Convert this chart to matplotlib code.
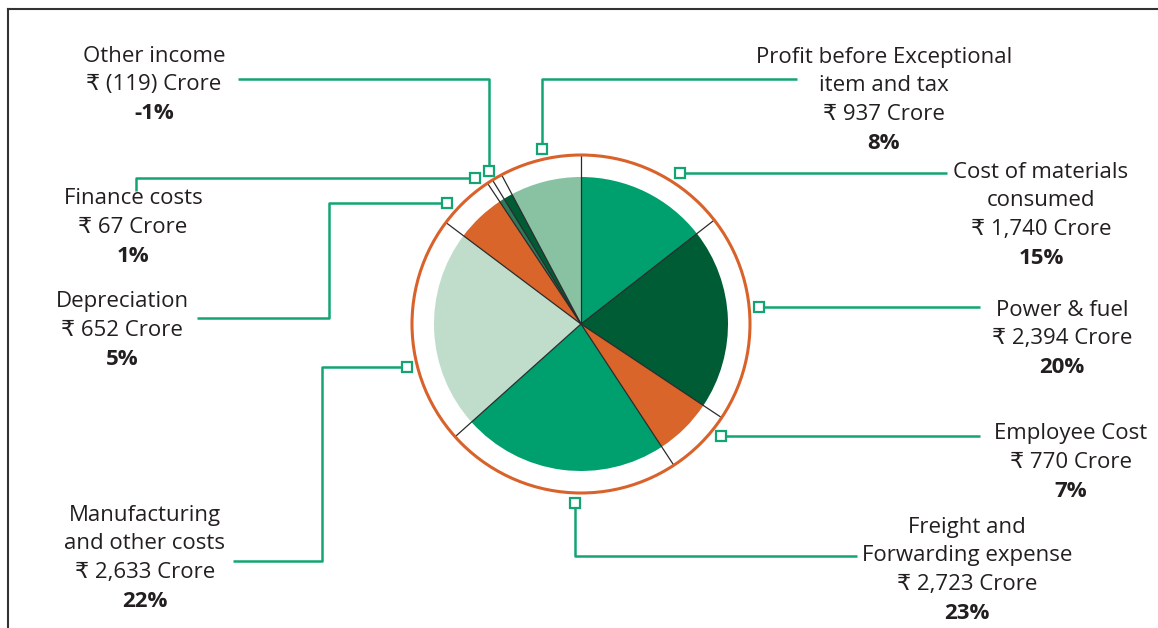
import matplotlib
matplotlib.use('Agg')
import matplotlib.pyplot as plt
from matplotlib.patches import Circle
import numpy as np

plt.rcParams['font.family'] = ['Open Sans', 'DejaVu Sans']

# Daten
labels = ['Cost of materials\nconsumed', 'Power & fuel', 'Employee Cost',
          'Freight and\nForwarding expense', 'Manufacturing\nand other costs',
          'Depreciation', 'Finance costs', 'Other income',
          'Profit before Exceptional\nitem and tax']
amounts = [1740, 2394, 770, 2723, 2633, 652, 67, -119, 937]
percents = [15, 20, 7, 23, 22, 5, 1, -1, 8]
colors = ['#00a06e', '#005c35', '#d9652a', '#00a06e', '#c0ddcb',
          '#d9652a', '#2f7a5b', '#005c35', '#88c2a3']

# Layout in Pixel (y von oben)
text_pos = [(1041, 172), (1062, 310), (1071, 434), (967, 527), (145, 515),
            (122, 302), (133, 199), (154, 56), (884, 57)]
paths = [
    [(947, 173), (680, 173)],
    [(980, 307), (759, 307)],
    [(980, 436), (721, 436)],
    [(857, 556), (575, 556), (575, 503)],
    [(233, 561), (322, 561), (322, 367), (407, 367)],
    [(197, 318), (329, 318), (329, 203), (447, 203)],
    [(136, 191), (136, 178), (475, 178)],
    [(238, 79), (489, 79), (489, 171)],
    [(797, 79), (542, 79), (542, 149)],
]
cx, cy = 581, 324
r_pie, r_ring = 147, 169
step = 28.7
green = '#13a571'
txt = '#231f20'

fig = plt.figure(figsize=(11.58, 6.28), dpi=100)
ax = fig.add_axes([0, 0, 1, 1])

vals = np.abs(amounts)
ax.pie(vals, colors=colors, startangle=-90, counterclock=True,
       center=(cx, cy), radius=r_pie, wedgeprops=dict(linewidth=0))

# Trennlinien bis zum Ring
cum = np.concatenate([[0], np.cumsum(vals)]) / vals.sum()
for f in cum[:-1]:
    a = np.deg2rad(-90 + f * 360)
    ax.plot([cx, cx + r_ring * np.cos(a)], [cy, cy + r_ring * np.sin(a)],
            color='#2b2b2b', lw=0.9, zorder=3)

ax.add_patch(Circle((cx, cy), r_ring, fill=False, ec='#d9622b', lw=2.2, zorder=4))

# Beschriftungen + Verbinder
for lab, amt, pct, (tx, ty), pth in zip(labels, amounts, percents, text_pos, paths):
    if amt < 0:
        amt_s = '₹ ({:,}) Crore'.format(-amt)
    else:
        amt_s = '₹ {:,} Crore'.format(amt)
    lines = lab.split('\n') + [amt_s]
    for i, s in enumerate(lines):
        ax.text(tx, ty + i * step, s, ha='center', va='center', fontsize=16, color=txt)
    ax.text(tx, ty + len(lines) * step, '{}%'.format(pct), ha='center', va='center',
            fontsize=16, color=txt, fontweight='bold')
    xs = [p[0] for p in pth]
    ys = [p[1] for p in pth]
    ax.plot(xs, ys, color=green, lw=1.8, zorder=5, solid_capstyle='butt')
    ax.plot(xs[-1], ys[-1], marker='s', ms=7, mfc='white', mec=green, mew=1.6, zorder=6)

# Rahmen oben/links
ax.plot([8, 1158], [9, 9], color='#333333', lw=1.5)
ax.plot([8, 8], [9, 628], color='#333333', lw=1.5)

ax.set_xlim(0, 1158)
ax.set_ylim(628, 0)
ax.set_aspect('equal')
ax.axis('off')

fig.savefig('out.png', dpi=100)
